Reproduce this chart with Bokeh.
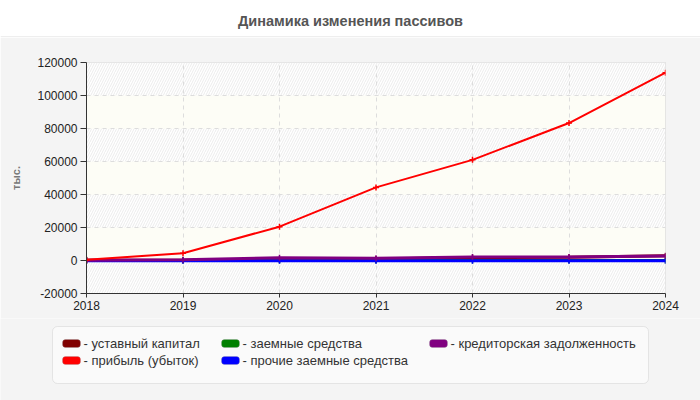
from bokeh.plotting import figure
from bokeh.layouts import column
from bokeh.models import BoxAnnotation, Label, Range1d, FixedTicker, NumeralTickFormatter, Span
from bokeh.embed import file_html
from bokeh.resources import INLINE

# data
years = [2018, 2019, 2020, 2021, 2022, 2023, 2024]
ustavnyi = [100, 200, 500, 900, 1800, 1900, 2900]
pribyl = [500, 4400, 20500, 44300, 61000, 83300, 113800]
zaemnye = [0, 0, 0, 0, 0, 0, 0]
prochie = [-200, -200, -200, -200, -200, -200, -200]
kreditor = [100, 500, 1700, 1300, 2100, 2100, 2700]

names = ["уставный капитал", "прибыль (убыток)", "заемные средства",
         "прочие заемные средства", "кредиторская задолженность"]
colors = ["#800000", "#ff0000", "#008000", "#0000ff", "#800080"]
y_ticks = [-20000, 0, 20000, 40000, 60000, 80000, 100000, 120000]

FONT = "Liberation Sans"
W = 700
PANEL = "#f4f4f4"


def blank(height, bg):
    # a figure whose frame covers it all, pixel coords from the top-left
    f = figure(width=W, height=height, output_backend="svg", toolbar_location=None,
               title=None, x_range=Range1d(0, W), y_range=Range1d(height, 0),
               x_axis_location=None, y_axis_location=None, frame_align=False,
               min_border=0, min_border_left=0, min_border_right=0,
               min_border_top=0, min_border_bottom=0)
    f.grid.visible = False
    f.outline_line_color = None
    f.background_fill_color = bg
    f.border_fill_color = bg
    return f


# title strip
t = blank(37, "white")
t.add_layout(Span(location=36.5, dimension="width", line_color="#dddddd", line_width=1))
t.add_layout(Label(x=350, y=20, text="Динамика изменения пассивов", text_font=FONT,
                   text_font_size="14.5px", text_font_style="bold", text_color="#555555",
                   text_align="center", text_baseline="middle"))

# main chart
p = figure(width=W, height=281, output_backend="svg", toolbar_location=None,
           title=None, x_range=Range1d(2018, 2024), y_range=Range1d(-20000, 120000),
           frame_align=False,
           min_border_left=86, min_border_right=35, min_border_top=25, min_border_bottom=25)

p.border_fill_color = PANEL
p.background_fill_color = "#fdfdf5"
p.outline_line_color = "#dddddd"

# alternating bands
for i in range(len(y_ticks) - 1):
    lo, hi = y_ticks[i], y_ticks[i + 1]
    if i % 2 == 0:
        band = BoxAnnotation(bottom=lo, top=hi, fill_color="white", fill_alpha=1,
                             hatch_pattern="/", hatch_color="#ececec", hatch_scale=5,
                             hatch_weight=1, line_color=None, level="image")
    else:
        band = BoxAnnotation(bottom=lo, top=hi, fill_color="#fdfdf6", fill_alpha=1,
                             line_color=None, level="image")
    p.add_layout(band)

# grid
p.xgrid.ticker = FixedTicker(ticks=years)
p.ygrid.ticker = FixedTicker(ticks=y_ticks)
p.grid.grid_line_color = "#dddddd"
p.grid.grid_line_dash = "4 4"

# axes
p.xaxis.ticker = FixedTicker(ticks=years)
p.yaxis.ticker = FixedTicker(ticks=y_ticks)
p.yaxis.formatter = NumeralTickFormatter(format="0")
p.axis.axis_line_color = "#333333"
p.axis.major_tick_line_color = "#333333"
p.axis.minor_tick_line_color = None
p.axis.major_tick_in = 0
p.yaxis.major_tick_out = 6
p.xaxis.major_tick_out = 4
p.yaxis.major_label_standoff = 3
p.xaxis.major_label_standoff = 3
p.axis.major_label_text_font = FONT
p.axis.major_label_text_font_size = "12px"
p.axis.major_label_text_color = "#222222"
p.yaxis.axis_label = "тыс."
p.yaxis.axis_label_text_font = FONT
p.yaxis.axis_label_text_font_size = "11px"
p.yaxis.axis_label_text_font_style = "bold"
p.yaxis.axis_label_text_color = "#777777"
p.yaxis.axis_label_standoff = 12

# series
series = [ustavnyi, pribyl, zaemnye, prochie, kreditor]
widths = [3, 2, 3, 3, 3]
order = [0, 2, 3, 4, 1]
for k in order:
    p.line(years, series[k], line_color=colors[k], line_width=widths[k])
    p.scatter(years, series[k], marker="cross", size=6, line_color=colors[k], line_width=1.5)

# legend strip
g = blank(82, PANEL)
g.add_layout(BoxAnnotation(left=52, right=648, top=8, bottom=65, fill_color="#fafafa",
                           fill_alpha=1, line_color="#bbbbbb", line_width=1, border_radius=5))
leg_x = [62, 62, 221, 221, 429]
leg_y = [25, 42, 25, 42, 25]
for k in range(len(names)):
    g.add_layout(BoxAnnotation(left=leg_x[k], right=leg_x[k] + 18, top=leg_y[k] - 4,
                               bottom=leg_y[k] + 4, fill_color=colors[k], fill_alpha=1,
                               line_color="#999999", line_width=1, border_radius=3))
    g.add_layout(Label(x=leg_x[k] + 21, y=leg_y[k], text="- " + names[k], text_font=FONT,
                       text_font_size="13px", text_color="#333333",
                       text_align="left", text_baseline="middle"))

layout = column(t, p, g, spacing=0)
open("out.html", "w").write(file_html(layout, INLINE))
